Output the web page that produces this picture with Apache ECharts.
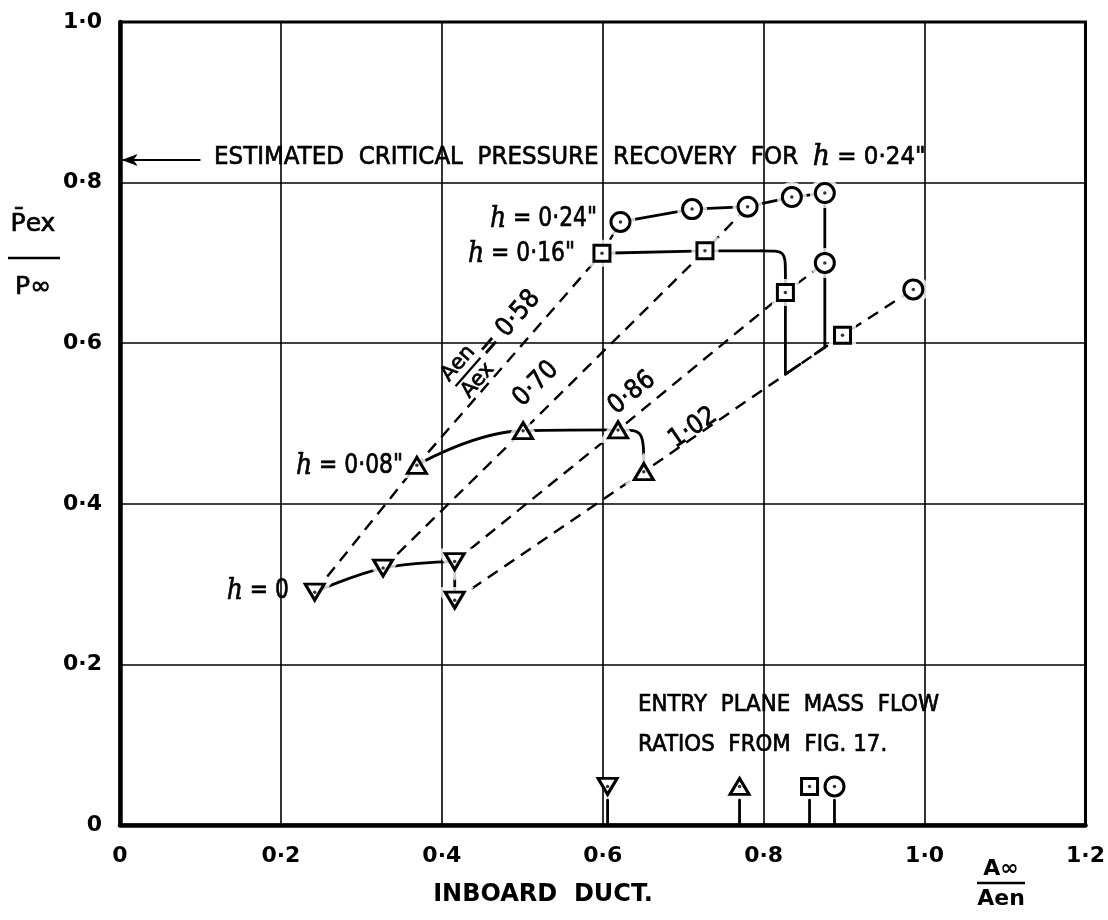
<!DOCTYPE html>
<html>
<head>
<meta charset="utf-8">
<script src="https://cdn.jsdelivr.net/npm/echarts@6/dist/echarts.min.js"></script>
<style>
  html, body { margin: 0; padding: 0; background: #fff; }
  #chart { width: 1108px; height: 920px; }
</style>
</head>
<body>
<div id="chart"></div>
<script>
// Inboard duct: exit pressure recovery Pex/P∞ against mass-flow ratio A∞/Aen,
// for four boundary-layer gap heights h and four area ratios Aen/Aex.

// Axis tick labels
const xTickLabels = ['0', '0·2', '0·4', '0·6', '0·8', '1·0', '1·2'];
const yTickLabels = ['0', '0·2', '0·4', '0·6', '0·8', '1·0'];

// Measured points [A∞/Aen, Pex/P∞] for each gap height
const gapH0   = [[0.242, 0.290], [0.327, 0.320], [0.416, 0.328], [0.416, 0.280]];
const gapH008 = [[0.369, 0.448], [0.501, 0.491], [0.619, 0.492], [0.651, 0.440]];
const gapH016 = [[0.599, 0.712], [0.727, 0.715], [0.827, 0.663], [0.898, 0.610]];
const gapH024 = [[0.622, 0.751], [0.711, 0.767], [0.780, 0.770], [0.835, 0.782],
                 [0.876, 0.787], [0.876, 0.700], [0.986, 0.667]];

// Area ratio Aen/Aex lines: index of the point in each gap series lying on that line
const areaRatioLabels = ['0·58', '0·70', '0·86', '1·02'];
const areaRatioIndex  = [[0, 0, 0, 0], [1, 1, 1, 2], [2, 2, 2, 5], [3, 3, 3, 6]];

// Entry plane mass flow ratios (from Fig. 17), one per gap height
const entryRatios = [0.606, 0.770, 0.857, 0.888];

// Estimated critical pressure recovery for h = 0·24"
const criticalRecovery = 0.828;

// ---------------------------------------------------------------------------
const FONT = 'DejaVu Sans';
const gapSeries = [gapH0, gapH008, gapH016, gapH024];
const symbols = [
  { symbol: 'triangle', rotate: 180, size: [19, 16] },
  { symbol: 'triangle', rotate: 0,   size: [19, 16] },
  { symbol: 'rect',     rotate: 0,   size: [16, 16] },
  { symbol: 'circle',   rotate: 0,   size: [19, 19] }
];

const ratioLines = areaRatioIndex.map(idx => idx.map((k, s) => gapSeries[s][k]));

function lineY(a, b, x) { return a[1] + (b[1] - a[1]) * (x - a[0]) / (b[0] - a[0]); }
const r102 = ratioLines[3];
const foot016 = [gapH016[2][0], lineY(r102[0], r102[2], gapH016[2][0])];
const foot024 = [gapH024[5][0], lineY(r102[0], r102[2], gapH024[5][0])];
const hook016 = [foot016[0] + 0.018, lineY(r102[0], r102[2], foot016[0] + 0.018)];
const hook024 = [foot024[0] - 0.012, lineY(r102[0], r102[2], foot024[0] - 0.012)];

const ENTRY_MARK_Y = 0.048;
const STEM_TOP = 0.031;
const BEND_R = 0.03;   // size of the rounded bend on the h = 0·16" curve

const solid = { color: '#000', width: 2.8 };
const series = [];

// Constant area-ratio lines (dashed)
ratioLines.forEach((pts, i) => {
  series.push({
    type: 'line', name: 'Aen/Aex ' + areaRatioLabels[i], data: pts,
    symbol: 'none', silent: true, z: 2,
    lineStyle: { color: '#000', width: 2.4, type: [12, 8] }
  });
});

// Constant gap-height curves (solid)
series.push({ type: 'line', data: gapH0.slice(0, 3), smooth: 0.4, symbol: 'none', silent: true, z: 3, lineStyle: solid });
series.push({ type: 'line', data: gapH0.slice(2, 4), symbol: 'none', silent: true, z: 3, lineStyle: solid });
series.push({ type: 'line', data: gapH008.slice(0, 3), smooth: 0.45, symbol: 'none', silent: true, z: 3, lineStyle: solid });
series.push({ type: 'line', data: gapH016.slice(0, 2), symbol: 'none', silent: true, z: 3, lineStyle: solid });
series.push({ type: 'line', data: gapH024.slice(0, 6), symbol: 'none', silent: true, z: 3, lineStyle: solid });

// Bends, drop lines to the 1·02 line and the entry-ratio stems
series.push({
  type: 'custom', coordinateSystem: 'cartesian2d', data: [[0, 0]], silent: true, z: 3, clip: false,
  renderItem: function (params, api) {
    const st = { stroke: '#000', lineWidth: 2.8, fill: null, lineJoin: 'round', lineCap: 'round' };
    const kids = [];
    const bend = (a, b, corner) => {
      const A = api.coord(a), B = api.coord(b), K = api.coord(corner);
      kids.push({ type: 'bezierCurve', shape: { x1: A[0], y1: A[1], x2: B[0], y2: B[1],
        cpx1: K[0], cpy1: K[1], cpx2: K[0], cpy2: K[1] }, style: st });
    };
    const seg = (a, b) => {
      const A = api.coord(a), B = api.coord(b);
      kids.push({ type: 'line', shape: { x1: A[0], y1: A[1], x2: B[0], y2: B[1] }, style: st });
    };
    bend(gapH008[2], gapH008[3], [gapH008[3][0], gapH008[2][1]]);
    // h = 0·16": level run, then a rounded bend down into the next point
    const p1 = gapH016[1], p2 = gapH016[2];
    const runEnd = [p2[0] - BEND_R, p1[1]];
    seg(p1, runEnd);
    bend(runEnd, [p2[0], p1[1] - BEND_R], [p2[0], p1[1]]);
    seg([p2[0], p1[1] - BEND_R], p2);
    seg(p2, foot016); seg(foot016, hook016);
    seg(gapH024[5], foot024); seg(foot024, hook024);
    entryRatios.forEach(x => seg([x, 0], [x, STEM_TOP]));
    return { type: 'group', children: kids };
  }
});

// White surrounds so lines stop short of the symbols, then the symbols and their centre dots
gapSeries.forEach((pts, i) => {
  const s = symbols[i];
  series.push({
    type: 'scatter', data: pts, symbol: s.symbol, symbolRotate: s.rotate, symbolSize: s.size,
    silent: true, z: 5, itemStyle: { color: '#fff', borderColor: '#fff', borderWidth: 11 }
  });
  series.push({
    type: 'scatter', data: pts.concat([[entryRatios[i], ENTRY_MARK_Y]]), symbol: s.symbol,
    symbolRotate: s.rotate, symbolSize: s.size, silent: true, z: 6,
    itemStyle: { color: '#fff', borderColor: '#000', borderWidth: 3, opacity: 1 }
  });
  series.push({
    type: 'scatter', data: pts.concat([[entryRatios[i], ENTRY_MARK_Y]]), symbol: 'circle', symbolSize: 3.5,
    silent: true, z: 7, itemStyle: { color: '#000' }
  });
});

// Critical pressure recovery arrow
series.push({
  type: 'line', data: [], silent: true, z: 4,
  markLine: {
    silent: true, symbol: ['none', 'arrow'], symbolSize: [9, 16],
    lineStyle: { color: '#000', width: 2.2, type: 'solid' }, label: { show: false },
    data: [[{ coord: [0.1, criticalRecovery] }, { coord: [0.002, criticalRecovery] }]]
  }
});

function tickIndex(v) { return Math.round(v / 0.2); }

// Text helpers
function txt(x, y, text, o) {
  o = o || {};
  const size = o.size || 22;
  return {
    type: 'text', x: x, y: y, scaleX: o.sx || 1, rotation: o.rot || 0, z: 100,
    style: {
      text: text, fill: '#000', fontFamily: FONT, fontSize: size,
      fontWeight: o.weight || 'normal',
      stroke: '#000', lineWidth: o.lw === undefined ? 0.7 : o.lw,
      align: o.align || 'left', verticalAlign: 'middle',
      textAlign: o.align || 'left', textVerticalAlign: 'middle',
      rich: {
        i: { fontFamily: 'DejaVu Serif', fontStyle: 'italic', fontSize: size + 4, fill: '#000' }
      }
    }
  };
}
function hline(x1, x2, y, w) {
  return { type: 'line', z: 100, shape: { x1: x1, y1: y, x2: x2, y2: y }, style: { stroke: '#000', lineWidth: w || 2 } };
}
const deg = Math.PI / 180;

const graphics = [
  // critical recovery note
  txt(214, 157, 'ESTIMATED  CRITICAL  PRESSURE  RECOVERY  FOR  {i|h} = 0·24"', { size: 25, sx: 0.92 }),
  // gap-height labels
  txt(597, 219, '{i|h} = 0·24"', { size: 26, sx: 0.84, align: 'right' }),
  txt(575, 254, '{i|h} = 0·16"', { size: 26, sx: 0.84, align: 'right' }),
  txt(403, 466, '{i|h} = 0·08"', { size: 26, sx: 0.84, align: 'right' }),
  txt(289, 591, '{i|h} = 0', { size: 26, sx: 0.84, align: 'right' }),
  // area-ratio labels along the dashed lines
  {
    type: 'group', x: 468, y: 372, rotation: 49 * deg, z: 100,
    children: [
      txt(0, -13, 'Aen', { size: 21, align: 'center' }),
      hline(-19, 19, 0, 2.2),
      txt(0, 13, 'Aex', { size: 21, align: 'center' }),
      txt(24, 0, '= ' + areaRatioLabels[0], { size: 26, sx: 0.9 })
    ]
  },
  txt(0, 0, areaRatioLabels[1], { size: 26, sx: 0.9, align: 'center' }),
  txt(0, 0, areaRatioLabels[2], { size: 26, sx: 0.9, align: 'center' }),
  txt(0, 0, areaRatioLabels[3], { size: 26, sx: 0.9, align: 'center' }),
  // entry plane note
  txt(638, 705, 'ENTRY  PLANE  MASS  FLOW', { size: 23, sx: 0.93 }),
  txt(638, 745, 'RATIOS  FROM  FIG. 17.', { size: 23, sx: 0.93 }),
  // axis titles
  txt(33, 224, 'P\u0304ex', { size: 25 }),
  hline(8, 60, 258, 2.6),
  txt(33, 287, 'P∞', { size: 25 }),
  txt(543, 895, 'INBOARD  DUCT.', { size: 24, weight: 'bold', align: 'center', lw: 0 }),
  txt(1001, 869, 'A∞', { size: 22, weight: 'bold', align: 'center', lw: 0 }),
  hline(977, 1025, 883, 2.6),
  txt(1001, 899, 'Aen', { size: 22, weight: 'bold', align: 'center', lw: 0 })
];
// y-axis title pieces are centred on x
graphics[11].style.align = graphics[11].style.textAlign = 'center';
graphics[13].style.align = graphics[13].style.textAlign = 'center';
// rotated ratio labels
const ratioLabelPos = [null, [536, 384, 45], [632, 393, 39], [693, 428, 34]];
[1, 2, 3].forEach(i => {
  const g = graphics[5 + i];
  g.x = ratioLabelPos[i][0]; g.y = ratioLabelPos[i][1]; g.rotation = ratioLabelPos[i][2] * deg;
});

const chart = echarts.init(document.getElementById('chart'));
chart.setOption({
  backgroundColor: '#fff',
  animation: false,
  grid: { left: 120, right: 22, top: 22, bottom: 95, show: true, borderColor: '#000', borderWidth: 3 },
  xAxis: {
    type: 'value', min: 0, max: 1.2, interval: 0.2,
    axisLine: { show: true, onZero: false, lineStyle: { color: '#000', width: 4.5 } },
    axisTick: { show: false },
    splitLine: { show: true, lineStyle: { color: '#000', width: 1.6 } },
    axisLabel: { color: '#000', fontFamily: FONT, fontSize: 22, fontWeight: 'bold', margin: 20,
      formatter: v => xTickLabels[tickIndex(v)] }
  },
  yAxis: {
    type: 'value', min: 0, max: 1.0, interval: 0.2,
    axisLine: { show: true, onZero: false, lineStyle: { color: '#000', width: 4.5 } },
    axisTick: { show: false },
    splitLine: { show: true, lineStyle: { color: '#000', width: 1.6 } },
    axisLabel: { color: '#000', fontFamily: FONT, fontSize: 22, fontWeight: 'bold', margin: 18,
      formatter: v => yTickLabels[tickIndex(v)] }
  },
  series: series,
  graphic: graphics
});
</script>
</body>
</html>
